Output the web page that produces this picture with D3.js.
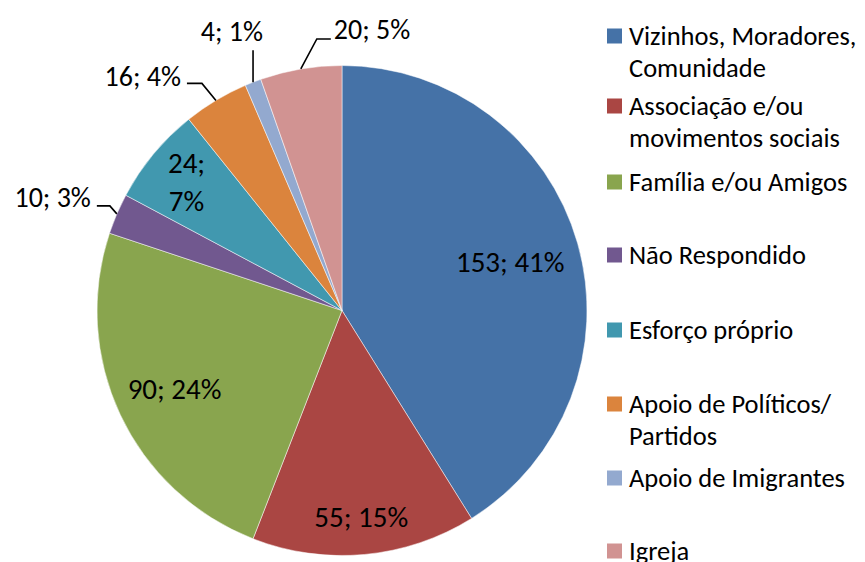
<!DOCTYPE html>
<html>
<head>
<meta charset="utf-8">
<script src="https://cdn.jsdelivr.net/npm/d3@7"></script>
<style>
  body { margin: 0; background: #fff; }
  text { font-family: Calibri, Carlito, "Open Sans", sans-serif; fill: #000; }
</style>
</head>
<body>
<svg id="chart"></svg>
<script>
  var categories = ["Vizinhos, Moradores, Comunidade", "Associação e/ou movimentos sociais",
    "Família e/ou Amigos", "Não Respondido", "Esforço próprio",
    "Apoio de Políticos/ Partidos", "Apoio de Imigrantes", "Igreja"]
  var values = [153, 55, 90, 10, 24, 16, 4, 20]
  var percents = ["41%", "15%", "24%", "3%", "7%", "4%", "1%", "5%"]
  var colors = ["#4572A7", "#AA4643", "#89A54E", "#71588F", "#4198AF", "#DB843D", "#93A9CF", "#D19392"]
  var legendLines = [["Vizinhos, Moradores,", "Comunidade"], ["Associação e/ou", "movimentos sociais"],
    ["Família e/ou Amigos"], ["Não Respondido"], ["Esforço próprio"],
    ["Apoio de Políticos/", "Partidos"], ["Apoio de Imigrantes"], ["Igreja"]]

  var width = 865
  var height = 562
  var cx = 342, cy = 310.5, R = 245

  var svg = d3.select("#chart")
    .attr("width", width)
    .attr("height", height)

  var pie = d3.pie().sort(null).value(d => d)
  var arcs = pie(values)
  var arc = d3.arc().innerRadius(0).outerRadius(R)

  var g = svg.append("g").attr("transform", "translate(" + cx + "," + cy + ")")

  g.selectAll("path")
    .data(arcs)
    .enter()
    .append("path")
    .attr("d", arc)
    .attr("fill", (d, i) => colors[i])
    .attr("stroke", "#fff")
    .attr("stroke-width", 0.5)

  function pt(angle, r) {
    return [r * Math.sin(angle), -r * Math.cos(angle)]
  }
  function mid(d) { return (d.startAngle + d.endAngle) / 2 }

  // inside labels: radius, number of lines
  var inside = { 0: [175, 1], 1: [207, 1], 2: [185, 1], 4: [202, 2] }
  // outside labels: elbow offset from the rim, horizontal run, anchor, text offset
  var outside = {
    3: { elbow: [-7, -8], run: -13, anchor: "end", dx: -6, dy: 1 },
    5: { elbow: [-14, -17], run: -15, anchor: "end", dx: -6, dy: 3 },
    6: { elbow: [0, -32], run: 0, anchor: "end", dx: 10, dy: -9 },
    7: { elbow: [16, -30], run: 14, anchor: "start", dx: 3, dy: 0 }
  }

  arcs.forEach(function(d, i) {
    var label = values[i] + "; " + percents[i]
    if (inside[i]) {
      var p = pt(mid(d), inside[i][0])
      var t = g.append("text")
        .attr("text-anchor", "middle")
        .style("font-size", "29px")
      if (inside[i][1] == 1) {
        t.attr("x", p[0]).attr("y", p[1] + 10).text(label)
      } else {
        t.append("tspan").attr("x", p[0]).attr("y", p[1] - 9).text(values[i] + ";")
        t.append("tspan").attr("x", p[0]).attr("y", p[1] + 29).text(percents[i])
      }
    } else {
      var o = outside[i]
      var p0 = pt(mid(d), R)
      var p1 = [p0[0] + o.elbow[0], p0[1] + o.elbow[1]]
      var p2 = [p1[0] + o.run, p1[1]]
      g.append("polyline")
        .attr("points", [p0, p1, p2].map(q => q.join(",")).join(" "))
        .attr("fill", "none")
        .attr("stroke", "#000")
        .attr("stroke-width", 1.6)
      g.append("text")
        .attr("x", p2[0] + o.dx).attr("y", p2[1] + o.dy)
        .attr("text-anchor", o.anchor)
        .style("font-size", "28px")
        .text(label)
    }
  })

  // legend
  var legendY = [36, 106, 182, 255, 330, 404, 478, 551]
  var legend = svg.append("g")
    .selectAll("g")
    .data(categories)
    .enter()
    .append("g")
    .attr("transform", (d, i) => "translate(607," + legendY[i] + ")")

  legend.append("rect")
    .attr("x", 0).attr("y", -7.5)
    .attr("width", 15).attr("height", 15)
    .attr("fill", (d, i) => colors[i])

  legend.append("text")
    .style("font-size", "26.5px")
    .selectAll("tspan")
    .data((d, i) => legendLines[i])
    .enter()
    .append("tspan")
    .attr("x", 22)
    .attr("y", (d, j) => 9 + j * 32)
    .text(d => d)
</script>
</body>
</html>
